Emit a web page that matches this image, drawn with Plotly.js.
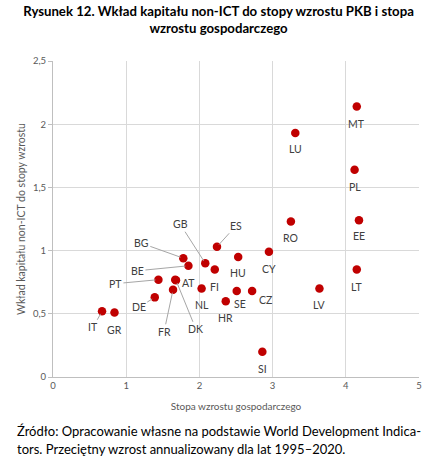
<!DOCTYPE html>
<html>
<head>
<meta charset="utf-8">
<script src="https://cdn.plot.ly/plotly-3.0.1.min.js"></script>
<style>
html,body{margin:0;padding:0;background:#fff;}
#chart{width:437px;height:462px;}
</style>
</head>
<body>
<div id="chart"></div>
<script>
// Data
const countries = ['MT','LU','PL','RO','EE','CY','LT','LV','CZ','ES','GB','HU','BG','BE','FI','PT','AT','DK','FR','NL','SE','HR','DE','IT','GR','SI'];
const growth    = [4.15,3.31,4.12,3.25,4.18,2.95,4.15,3.64,2.72,2.24,2.08,2.53,1.78,1.85,2.21,1.44,1.67,1.68,1.64,2.03,2.51,2.36,1.39,0.67,0.84,2.86];
const capital   = [2.14,1.93,1.64,1.23,1.24,0.99,0.85,0.70,0.68,1.03,0.90,0.95,0.94,0.88,0.85,0.77,0.77,0.765,0.69,0.70,0.68,0.60,0.63,0.52,0.51,0.20];
const xTicks = [0,1,2,3,4,5];
const yTicks = [0,0.5,1,1.5,2,2.5];

const titleText = 'Rysunek 12. Wkład kapitału non-ICT do stopy wzrostu PKB i stopa<br>wzrostu gospodarczego';
const xTitle = 'Stopa wzrostu gospodarczego';
const yTitle = 'Wkład kapitału non-ICT do stopy wzrostu';
const sourceLine1 = 'Źródło: Opracowanie własne na podstawie World Development Indica-';
const sourceLine2 = 'tors. Przeciętny wzrost annualizowany dla lat 1995–2020.';

// Label placement (pixel offsets of label centre from the point; leader = draw line)
const labelPos = {
  MT:[0,17,false], LU:[0,16,false], PL:[0,17,false], RO:[0,16,false], EE:[0,16,false],
  CY:[0,17,false], LT:[0,17,false], LV:[0,16,false], CZ:[13,9,false], ES:[19,-21,true],
  GB:[-25,-39,true], HU:[0,16,false], BG:[-42,-15,true], BE:[-51,5,true], FI:[0,17,false],
  PT:[-43,4,true], AT:[13,3,false], DK:[20,49,true], FR:[-9,42,true], NL:[0,16,false],
  SE:[3,13,false], HR:[0,17,false], DE:[-16,10,true], IT:[-9,16,true], GR:[0,17,false],
  SI:[0,17,false]
};

const FONT = 'Lato, "Open Sans", sans-serif';

const annotations = countries.map((c,i)=>{
  const p = labelPos[c];
  return {
    x: growth[i], y: capital[i], xref:'x', yref:'y',
    text: c, showarrow: true, ax: p[0], ay: p[1],
    arrowhead: 0, arrowwidth: 1, standoff: 3,
    arrowcolor: p[2] ? '#a6a6a6' : 'rgba(0,0,0,0)',
    font: {family: FONT, size: 10.5, color: '#404040'}
  };
});

annotations.push({
  xref:'paper', yref:'paper', x:-0.105, y:-0.171, xanchor:'left', yanchor:'middle',
  text: sourceLine1, showarrow:false, align:'left',
  font:{family: FONT, size: 13, color:'#000'}
});
annotations.push({
  xref:'paper', yref:'paper', x:-0.105, y:-0.229, xanchor:'left', yanchor:'middle',
  text: sourceLine2, showarrow:false, align:'left',
  font:{family: FONT, size: 13, color:'#000'}
});

const trace = {
  x: growth, y: capital, text: countries, type:'scatter', mode:'markers',
  marker:{color:'#c00000', size:8.5},
  hoverinfo:'text'
};

const layout = {
  width:437, height:462,
  margin:{l:53.3, r:17.7, t:60.6, b:84.7},
  paper_bgcolor:'#fff', plot_bgcolor:'#fff',
  separators:', ',
  showlegend:false,
  title:{text:titleText, x:0.5, xanchor:'center', y:0.965, yanchor:'top',
    font:{family: FONT, size:13.2, color:'#000', weight:'bold'}},
  xaxis:{range:[0,5], tickvals:xTicks, ticktext:xTicks.map(String), showgrid:true, gridcolor:'#d9d9d9',
    zeroline:false, showline:true, linecolor:'#bfbfbf', ticks:'',
    tickfont:{family:FONT, size:9.5, color:'#595959'},
    title:{text:xTitle, font:{family:FONT, size:10, color:'#595959'}, standoff:12}},
  yaxis:{range:[0,2.5], tickvals:yTicks, ticktext:yTicks.map(v=>String(v).replace('.',',')), showgrid:true, gridcolor:'#d9d9d9',
    zeroline:false, showline:true, linecolor:'#bfbfbf', ticks:'outside', ticklen:4, tickcolor:'#bfbfbf',
    tickfont:{family:FONT, size:9.5, color:'#595959'},
    title:{text:yTitle, font:{family:FONT, size:10.5, color:'#595959'}, standoff:5}},
  annotations: annotations
};

Plotly.newPlot('chart',[trace],layout,{displayModeBar:false, staticPlot:true});
</script>
</body>
</html>
